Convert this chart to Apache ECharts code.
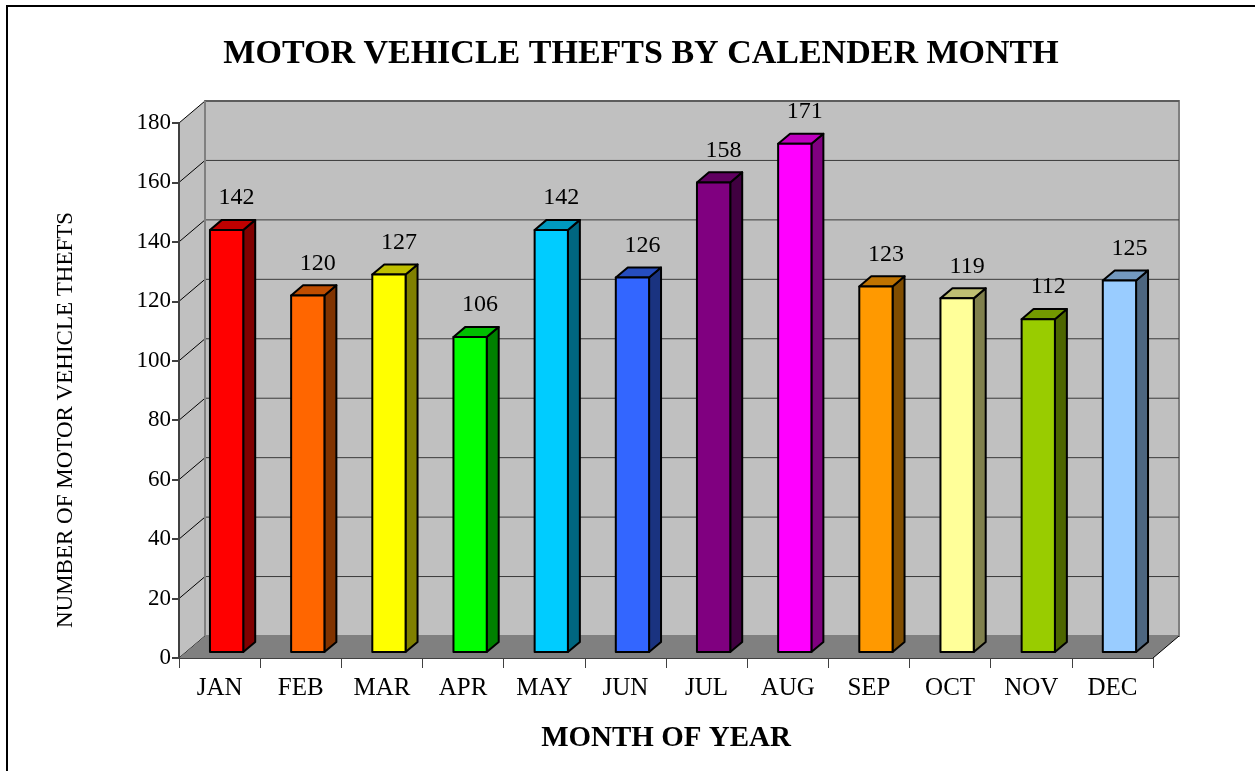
<!DOCTYPE html>
<html>
<head>
<meta charset="utf-8">
<script src="https://cdn.jsdelivr.net/npm/echarts@6/dist/echarts.min.js"></script>
<style>
  html, body { margin: 0; padding: 0; background: #fff; }
  #main { width: 1255px; height: 771px; }
</style>
</head>
<body>
<div id="main"></div>
<script>
var months = ['JAN', 'FEB', 'MAR', 'APR', 'MAY', 'JUN', 'JUL', 'AUG', 'SEP', 'OCT', 'NOV', 'DEC'];
var thefts = [142, 120, 127, 106, 142, 126, 158, 171, 123, 119, 112, 125];
var yTicks = [0, 20, 40, 60, 80, 100, 120, 140, 160, 180];

// bar face colours, one per month
var palette = ['#ff0000', '#ff6600', '#ffff00', '#00ff00', '#00ccff', '#3366ff',
  '#800080', '#ff00ff', '#ff9900', '#ffff99', '#99cc00', '#99ccff'];

var FONT = 'Liberation Serif';
// depth of the 3d box (back wall offset from the front plane)
var DX = 26, DY = -22;

function shade(hex, k) {
  var n = parseInt(hex.slice(1), 16);
  var r = Math.round(((n >> 16) & 255) * k);
  var g = Math.round(((n >> 8) & 255) * k);
  var b = Math.round((n & 255) * k);
  return 'rgb(' + r + ',' + g + ',' + b + ')';
}

var chart = echarts.init(document.getElementById('main'));

function renderWalls(params, api) {
  var cs = params.coordSys;
  var x = cs.x, y = cs.y, w = cs.width, h = cs.height;
  var kids = [];
  // left side wall
  kids.push({
    type: 'polygon',
    shape: { points: [[x, y], [x + DX, y + DY], [x + DX, y + h + DY], [x, y + h]] },
    style: { fill: '#c0c0c0', stroke: null }
  });
  // back wall
  kids.push({
    type: 'rect',
    shape: { x: x + DX, y: y + DY, width: w, height: h },
    style: { fill: '#c0c0c0', stroke: '#808080', lineWidth: 2 }
  });
  // gridlines on back wall and side wall
  yTicks.forEach(function (v) {
    var p = api.coord([0, v]);
    if (v > 0) {
      kids.push({
        type: 'line',
        shape: { x1: x + DX, y1: p[1] + DY, x2: x + w + DX, y2: p[1] + DY },
        style: { stroke: '#3a3a3a', lineWidth: 1 }
      });
    }
    kids.push({
      type: 'line',
      shape: { x1: x, y1: p[1], x2: x + DX, y2: p[1] + DY },
      style: { stroke: '#000', lineWidth: 1 }
    });
  });
  // left edge of back wall
  kids.push({
    type: 'line',
    shape: { x1: x + DX, y1: y + DY, x2: x + DX, y2: y + h + DY },
    style: { stroke: '#808080', lineWidth: 2 }
  });
  // floor
  kids.push({
    type: 'polygon',
    shape: { points: [[x, y + h], [x + DX, y + h + DY], [x + w + DX, y + h + DY], [x + w, y + h]] },
    style: { fill: '#808080', stroke: null }
  });
  kids.push({
    type: 'line',
    shape: { x1: x + w, y1: y + h, x2: x + w + DX, y2: y + h + DY },
    style: { stroke: '#000', lineWidth: 1 }
  });
  return { type: 'group', children: kids };
}

function renderBar(params, api) {
  var idx = api.value(0), val = api.value(1);
  var base = api.coord([idx, 0]);
  var top = api.coord([idx, val]);
  var band = api.size([1, 0])[0];
  var w = band * 0.41;
  var f0 = 0.27, f1 = 0.73;
  var x0 = base[0] - w / 2 + DX * f0, x1 = x0 + w;
  var yb = base[1] + DY * f0, yt = top[1] + DY * f0;
  var ddx = DX * (f1 - f0), ddy = DY * (f1 - f0);
  var c = palette[idx % palette.length];
  var line = { stroke: '#000', lineWidth: 2, lineJoin: 'round' };
  return {
    type: 'group',
    children: [
      {
        type: 'polygon',
        shape: { points: [[x1, yb], [x1 + ddx, yb + ddy], [x1 + ddx, yt + ddy], [x1, yt]] },
        style: Object.assign({ fill: shade(c, 0.5) }, line)
      },
      {
        type: 'polygon',
        shape: { points: [[x0, yt], [x0 + ddx, yt + ddy], [x1 + ddx, yt + ddy], [x1, yt]] },
        style: Object.assign({ fill: shade(c, 0.75) }, line)
      },
      {
        type: 'rect',
        shape: { x: x0, y: yt, width: w, height: yb - yt },
        style: Object.assign({ fill: c }, line)
      },
      {
        type: 'text',
        x: (x0 + x1) / 2 + 10,
        y: yt - 32,
        style: {
          text: String(val),
          fill: '#000',
          font: '24px "' + FONT + '"',
          align: 'center',
          verticalAlign: 'middle'
        }
      }
    ]
  };
}

var option = {
  backgroundColor: '#ffffff',
  animation: false,
  title: {
    text: 'MOTOR VEHICLE THEFTS BY CALENDER MONTH',
    left: 636,
    top: 32,
    textAlign: 'center',
    textStyle: { fontFamily: FONT, fontSize: 34, fontWeight: 'bold', color: '#000' }
  },
  grid: { left: 179, right: 102, top: 123, bottom: 113 },
  xAxis: {
    type: 'category',
    data: months,
    z: 5,
    name: 'MONTH OF YEAR',
    nameLocation: 'middle',
    nameGap: 66,
    nameTextStyle: { fontFamily: FONT, fontSize: 29, fontWeight: 'bold', color: '#000' },
    axisLine: { show: true, lineStyle: { color: '#404040', width: 1 } },
    axisTick: { show: true, length: 10, lineStyle: { color: '#404040' } },
    axisLabel: { fontFamily: FONT, fontSize: 25, color: '#000', margin: 18 },
    splitLine: { show: false }
  },
  yAxis: {
    type: 'value',
    min: 0,
    max: 180,
    interval: 20,
    z: 5,
    axisLine: { show: true, lineStyle: { color: '#404040', width: 2 } },
    axisTick: { show: true, length: 7, lineStyle: { color: '#404040', width: 2 } },
    axisLabel: { fontFamily: FONT, fontSize: 23, color: '#000', margin: 8 },
    splitLine: { show: false }
  },
  graphic: [
    {
      type: 'rect',
      shape: { x: 7, y: 6, width: 1400, height: 900 },
      style: { fill: null, stroke: '#000', lineWidth: 2 },
      z: 100
    },
    {
      type: 'text',
      x: 66,
      y: 420,
      rotation: Math.PI / 2,
      style: {
        text: 'NUMBER OF MOTOR VEHICLE THEFTS',
        font: '23px "' + FONT + '"',
        fill: '#000',
        align: 'center',
        verticalAlign: 'middle'
      }
    }
  ],
  series: [
    {
      type: 'custom',
      z: 1,
      silent: true,
      renderItem: renderWalls,
      data: [[0, 0]]
    },
    {
      type: 'custom',
      z: 2,
      renderItem: renderBar,
      data: thefts.map(function (v, i) { return [i, v]; })
    }
  ]
};

chart.setOption(option);
</script>
</body>
</html>
